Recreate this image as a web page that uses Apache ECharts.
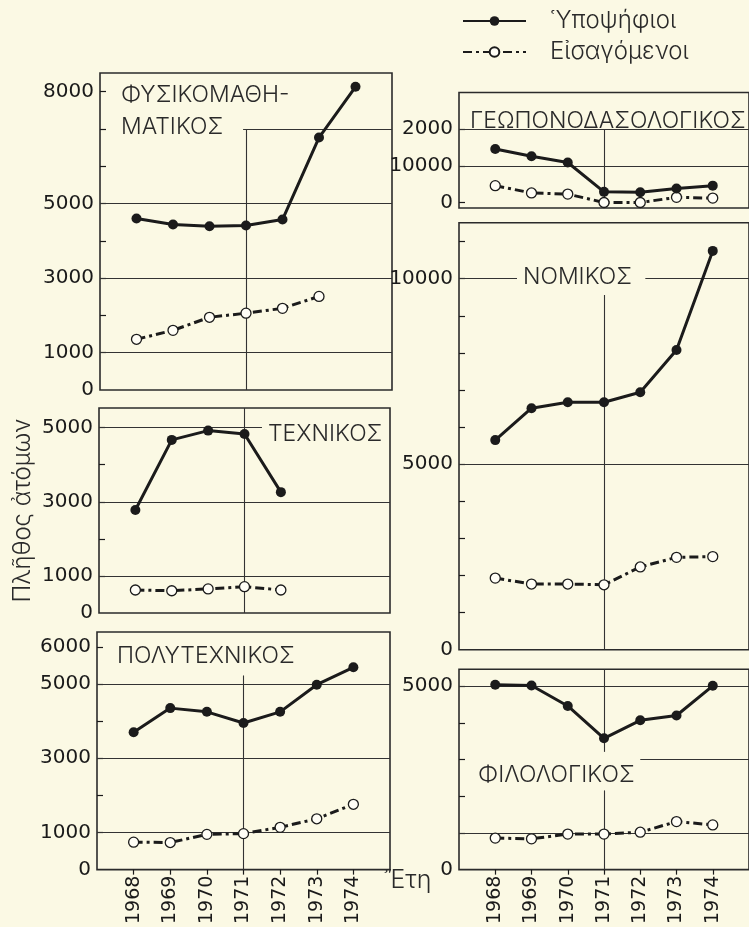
<!DOCTYPE html>
<html>
<head>
<meta charset="utf-8">
<title>Υποψήφιοι και εισαγόμενοι 1968-1974</title>
<script src="https://cdn.jsdelivr.net/npm/echarts@6/dist/echarts.min.js"></script>
<style>
  html, body { margin: 0; padding: 0; background: #fbf9e4; }
  #chart { width: 749px; height: 927px; }
</style>
</head>
<body>
<div id="chart"></div>
<script>
  var years = [1968, 1969, 1970, 1971, 1972, 1973, 1974];

  // Υποψήφιοι / Εισαγόμενοι ανά σχολή (τιμές από το σχήμα)
  var fysikoCand = [4600, 4440, 4390, 4410, 4570, 6770, 8130];
  var fysikoAdm = [1360, 1600, 1950, 2060, 2190, 2510];
  var texnikoCand = [2780, 4670, 4920, 4830, 3260];
  var texnikoAdm = [620, 600, 650, 710, 620];
  var polyCand = [3700, 4350, 4250, 3950, 4250, 4980, 5450];
  var polyAdm = [740, 730, 950, 970, 1140, 1370, 1760];
  var geoCand = [1460, 1260, 1090, 290, 280, 380, 460];
  var geoAdm = [460, 260, 230, 0, 0, 140, 120];
  var nomCand = [5650, 6510, 6670, 6670, 6940, 8080, 10750];
  var nomAdm = [1930, 1770, 1770, 1750, 2230, 2490, 2510];
  var filoCand = [5040, 5020, 4460, 3580, 4070, 4200, 5010];
  var filoAdm = [860, 840, 970, 970, 1020, 1310, 1220];

  // y tick labels as printed
  var fysikoTicks = [0, 1000, 3000, 5000, 8000];
  var texnikoTicks = [0, 1000, 3000, 5000];
  var polyTicks = [0, 1000, 3000, 5000, 6000];
  var geoTicks = [0, 1000, 2000];
  var geoTickText = ['0', '10000', '2000'];
  var nomTicks = [0, 5000, 10000];
  var filoTicks = [0, 5000];

  var seriesNames = ['Ὑποψήφιοι', 'Εἰσαγόμενοι'];

  var ink = '#1a1a1a';
  var paper = '#fbf9e4';
  var tickFont = 'DejaVu Sans';
  var titleFont = 'Inter';

  // h: [value, fromYear, toYear], v: [fromValue, toValue] at 1971
  var panels = [
    {title: 'ΦΥΣΙΚΟΜΑΘΗ-\nΜΑΤΙΚΟΣ', tl: 121, tt: 79, cand: fysikoCand, adm: fysikoAdm, ticks: fysikoTicks,
     grid: {left: 100, top: 73, width: 292, height: 317}, min: 0, max: 8500,
     h: [[5000], [3000], [1000], [7000, 1970.92, 1975]], v: [[0, 7000]]},
    {title: 'ΤΕΧΝΙΚΟΣ', tl: 268, tt: 418, cand: texnikoCand, adm: texnikoAdm, ticks: texnikoTicks,
     grid: {left: 99, top: 408, width: 291, height: 205}, min: 0, max: 5530,
     h: [[5000, 1967, 1971.48], [3000], [1000]], v: [[0, 5530]], yName: 'Πλῆθος ἀτόμων'},
    {title: 'ΠΟΛΥΤΕΧΝΙΚΟΣ', tl: 117, tt: 640, cand: polyCand, adm: polyAdm, ticks: polyTicks,
     grid: {left: 97, top: 632, width: 293, height: 240}, min: 0, max: 6400,
     h: [[5000], [3000], [1000]], v: [[0, 5230]], bottom: true},
    {title: 'ΓΕΩΠΟΝΟΔΑΣΟΛΟΓΙΚΟΣ', tl: 470, tt: 105, cand: geoCand, adm: geoAdm, ticks: geoTicks, tickText: geoTickText,
     grid: {left: 459, top: 92.5, width: 294.4, height: 115.5}, min: -150, max: 3000,
     h: [[2000], [1000]], v: [[-150, 2000]]},
    {title: 'ΝΟΜΙΚΟΣ', tl: 523, tt: 261, cand: nomCand, adm: nomAdm, ticks: nomTicks,
     grid: {left: 459, top: 222.7, width: 294.4, height: 427}, min: 0, max: 11510,
     h: [[10000, 1967, 1968.6], [10000, 1972.14, 1975], [5000]], v: [[0, 9560]]},
    {title: 'ΦΙΛΟΛΟΓΙΚΟΣ', tl: 478, tt: 759, cand: filoCand, adm: filoAdm, ticks: filoTicks,
     grid: {left: 459, top: 669.3, width: 294.4, height: 202.7}, min: 0, max: 5460,
     h: [[5000], [3000, 1972, 1975], [1000]], v: [[3210, 5460], [0, 2160]], bottom: true}
  ];

  function pairs(vals) {
    return vals.map(function (v, i) { return [years[i], v]; });
  }

  function thousands(min, max) {
    var out = [];
    for (var t = Math.ceil(min / 1000) * 1000; t < max; t += 1000) {
      if (t > min) out.push(t);
    }
    return out;
  }

  var grids = [], xAxes = [], yAxes = [], series = [], titles = [];

  panels.forEach(function (p, i) {
    grids.push(Object.assign({show: true, borderColor: '#2b2b2b', borderWidth: 1.6, backgroundColor: 'transparent'}, p.grid));

    xAxes.push({
      type: 'value', gridIndex: i, min: 1967, max: 1975,
      axisLine: {show: false},
      splitLine: {show: false},
      axisTick: {show: !!p.bottom, customValues: years, length: 5, lineStyle: {color: ink, width: 1.2}},
      axisLabel: {show: !!p.bottom, customValues: years, rotate: 90, margin: 6,
        fontFamily: tickFont, fontSize: 19, color: ink, formatter: function (v) { return String(v); }}
    });

    yAxes.push({
      type: 'value', gridIndex: i, min: p.min, max: p.max,
      name: p.yName || '', nameLocation: 'middle', nameRotate: 90, nameGap: 64,
      nameTextStyle: {fontFamily: titleFont, fontWeight: 300, fontSize: 24, color: '#2a2a2a'},
      axisLine: {show: false},
      splitLine: {show: false},
      axisTick: {show: true, inside: true, length: 6, customValues: thousands(p.min, p.max), lineStyle: {color: ink, width: 1.2}},
      axisLabel: {customValues: p.ticks, margin: 6, fontFamily: tickFont, fontSize: 20, color: ink,
        formatter: function (v) {
          if (p.tickText) return p.tickText[p.ticks.indexOf(v)];
          return String(v);
        }}
    });

    var guide = [];
    p.h.forEach(function (h) {
      var x0 = h.length > 1 ? h[1] : 1967, x1 = h.length > 2 ? h[2] : 1975;
      guide.push([{coord: [x0, h[0]]}, {coord: [x1, h[0]]}]);
    });
    p.v.forEach(function (v) {
      guide.push([{coord: [1971, v[0]]}, {coord: [1971, v[1]]}]);
    });

    series.push({
      name: seriesNames[0], type: 'line', xAxisIndex: i, yAxisIndex: i,
      data: pairs(p.cand), symbol: 'circle', symbolSize: 10, z: 4,
      itemStyle: {color: '#1b1b1b'},
      lineStyle: {color: '#1b1b1b', width: 3},
      markLine: {silent: true, symbol: ['none', 'none'], label: {show: false}, z: 1,
        lineStyle: {color: '#333', width: 1.1, type: 'solid'}, emphasis: {disabled: true}, data: guide},
      animation: false
    });
    series.push({
      name: seriesNames[1], type: 'line', xAxisIndex: i, yAxisIndex: i,
      data: pairs(p.adm), symbol: 'circle', symbolSize: 10, z: 3,
      itemStyle: {color: '#fffef6', borderColor: '#1b1b1b', borderWidth: 1.3},
      lineStyle: {color: '#1b1b1b', width: 3, type: [9, 4, 3, 4]},
      animation: false
    });

    titles.push({
      text: p.title, left: p.tl, top: p.tt, padding: 0,
      textStyle: {fontFamily: titleFont, fontWeight: 300, fontSize: 23, lineHeight: 32, color: '#2a2a2a'}
    });
  });

  titles.push({
    text: 'Ἔτη', left: 383, top: 868, padding: 0,
    textStyle: {fontFamily: titleFont, fontWeight: 300, fontSize: 25, color: '#2a2a2a'}
  });

  var chart = echarts.init(document.getElementById('chart'), null, {renderer: 'canvas'});
  chart.setOption({
    backgroundColor: paper,
    animation: false,
    title: titles,
    legend: {
      data: seriesNames, orient: 'vertical', left: 462, top: 9, padding: 0,
      itemWidth: 63, itemHeight: 12, itemGap: 7,
      textStyle: {fontFamily: titleFont, fontWeight: 300, fontSize: 24, color: '#2a2a2a', padding: [0, 0, 0, 19]}
    },
    grid: grids,
    xAxis: xAxes,
    yAxis: yAxes,
    series: series
  });
</script>
</body>
</html>
